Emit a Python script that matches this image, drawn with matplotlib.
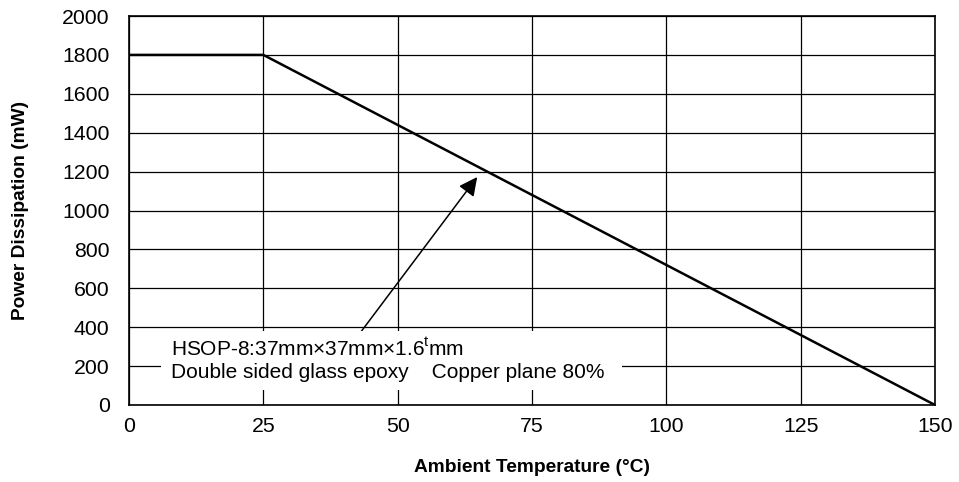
import matplotlib
matplotlib.use("Agg")
import matplotlib.pyplot as plt

# derating curve
temp = [0, 25, 150]
power = [1800, 1800, 0]

x_ticks = [0, 25, 50, 75, 100, 125, 150]
y_ticks = [0, 200, 400, 600, 800, 1000, 1200, 1400, 1600, 1800, 2000]

plt.rcParams['font.family'] = ['Liberation Sans', 'DejaVu Sans']
plt.rcParams['mathtext.fontset'] = 'custom'
plt.rcParams['mathtext.rm'] = 'Liberation Sans'

fig = plt.figure(figsize=(9.59, 4.82), dpi=100)
ax = fig.add_axes([129 / 959, 1 - 405 / 482, 806 / 959, 389 / 482])

ax.plot(temp, power, color='black', lw=1.8, zorder=3)

ax.set_xlim(0, 150)
ax.set_ylim(0, 2000)
ax.set_xticks(x_ticks)
ax.set_yticks(y_ticks)
ax.tick_params(length=0, labelsize=15.3)
ax.tick_params(axis='y', pad=14)
ax.tick_params(axis='x', pad=9)
ax.grid(True, color='black', lw=0.9)
for s in ax.spines.values():
    s.set_linewidth(1.2)

ax.set_xlabel('Ambient Temperature (°C)', fontsize=13.8, fontweight='bold', labelpad=16)
ax.set_ylabel('Power Dissipation (mW)', fontsize=13.8, fontweight='bold', labelpad=24)

# arrow from the note up to the curve
ax.annotate('', xy=(64.8, 1172), xytext=(43.0, 370),
            arrowprops=dict(arrowstyle='-|>', color='black', lw=1.1,
                            mutation_scale=28, shrinkA=0, shrinkB=0),
            zorder=2)

# white box hiding the grid behind the note
ax.add_patch(plt.Rectangle((5.9, 78), 85.8, 305, facecolor='white',
                           edgecolor='none', zorder=2.5))
ax.text(7.8, 288, r'HSOP-8:37mm×37mm×1.6$^{\hspace{-0.04}\mathrm{t}}$mm', fontsize=15,
        va='center', zorder=4)
ax.text(7.8, 165, 'Double sided glass epoxy    Copper plane 80%', fontsize=15,
        va='center', zorder=4)

fig.savefig('out.png', dpi=100)
